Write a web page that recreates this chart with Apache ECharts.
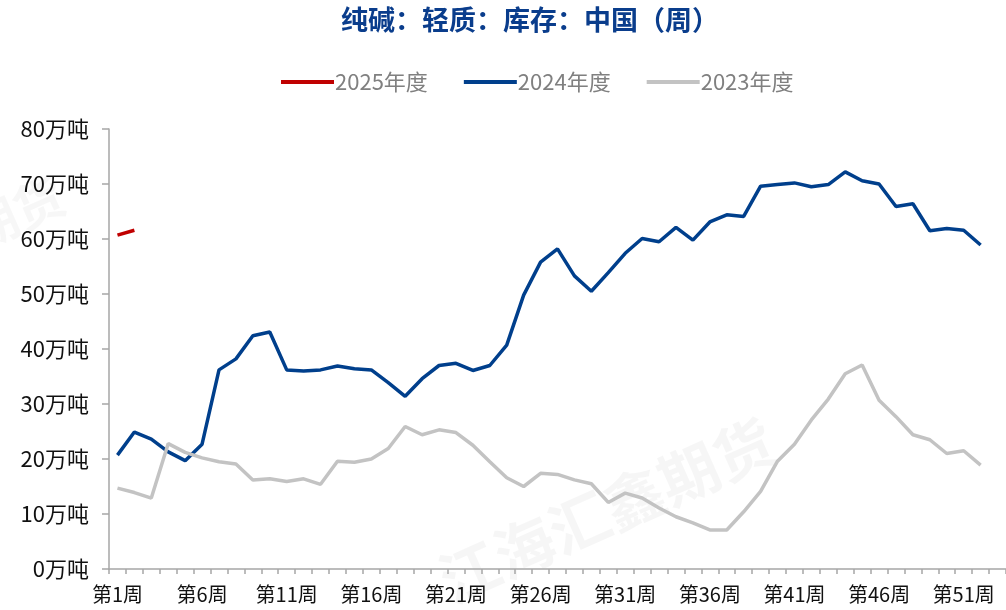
<!DOCTYPE html>
<html>
<head>
<meta charset="utf-8">
<script src="https://cdn.jsdelivr.net/npm/echarts@6/dist/echarts.min.js"></script>
<style>
html,body{margin:0;padding:0;background:#fff;}
#c{width:1006px;height:610px;}
</style>
</head>
<body>
<div id="c"></div>
<script>
var weeks = [];
for (var i = 1; i <= 53; i++) weeks.push('第' + i + '周');

var s2025 = [60.7, 61.6];
var s2024 = [20.7, 24.9, 23.6, 21.3, 19.7, 22.7, 36.2, 38.2, 42.4, 43.1,
             36.2, 36.0, 36.2, 36.9, 36.4, 36.2, 33.9, 31.4, 34.6, 37.0,
             37.4, 36.1, 37.0, 40.7, 49.8, 55.8, 58.2, 53.3, 50.5, 53.9,
             57.4, 60.1, 59.5, 62.1, 59.8, 63.1, 64.4, 64.1, 69.6, 69.9,
             70.2, 69.5, 69.9, 72.2, 70.6, 70.0, 65.9, 66.4, 61.5, 61.9,
             61.6, 58.9];
var s2023 = [14.7, 13.9, 12.9, 22.8, 21.2, 20.2, 19.5, 19.1, 16.2, 16.4,
             15.9, 16.4, 15.4, 19.6, 19.4, 20.0, 21.9, 25.9, 24.4, 25.3,
             24.8, 22.5, 19.5, 16.6, 15.0, 17.4, 17.2, 16.2, 15.5, 12.1,
             13.8, 12.9, 11.1, 9.5, 8.4, 7.1, 7.1, 10.4, 14.1, 19.6,
             22.7, 27.1, 30.9, 35.5, 37.1, 30.7, 27.7, 24.4, 23.5, 21.0,
             21.5, 18.9];
var seriesNames = ['2025年度', '2024年度', '2023年度'];
var seriesColors = ['#c00000', '#003f8c', '#c3c3c3'];
var yTicks = [0, 10, 20, 30, 40, 50, 60, 70, 80];

var chart = echarts.init(document.getElementById('c'));
var font = '"Noto Sans CJK SC", "Noto Sans", sans-serif';
function mk(name, data, color) {
  return {
    name: name, type: 'line', data: data, symbol: 'none', smooth: false,
    lineStyle: {width: 3.5, color: color}, itemStyle: {color: color}
  };
}
chart.setOption({
  animation: false,
  backgroundColor: '#ffffff',
  title: {
    text: '纯碱：轻质：库存：中国（周）',
    left: 336, top: 1,
    textStyle: {fontFamily: font, fontSize: 27, fontWeight: 'bold', color: '#0a3d8c'}
  },
  graphic: [{
    type: 'text', left: 430, top: 410, rotation: Math.PI / 7.5,
    style: {text: '江海汇鑫期货', fontSize: 60, fontWeight: 'bold', fontFamily: font, fill: 'rgba(0,0,0,0.035)'}
  }, {
    type: 'text', left: -40, top: 170, rotation: Math.PI / 7.5,
    style: {text: '期货', fontSize: 50, fontWeight: 'bold', fontFamily: font, fill: 'rgba(0,0,0,0.03)'}
  }],
  legend: {
    top: 66, left: 276,
    itemWidth: 53, itemHeight: 4, itemGap: 36,
    icon: 'rect',
    data: seriesNames,
    textStyle: {fontFamily: font, fontSize: 22, color: '#808080', padding: [0, 0, 0, -4]}
  },
  grid: {left: 109, right: -6, top: 129, bottom: 41, containLabel: false},
  xAxis: {
    type: 'category', data: weeks, boundaryGap: true,
    axisLine: {show: true, lineStyle: {color: '#a6a6a6', width: 1.5}},
    axisTick: {show: true, interval: 0, length: 5, lineStyle: {color: '#a6a6a6', width: 1.5}},
    axisLabel: {interval: 4, margin: 15, fontFamily: font, fontSize: 20, color: '#111'},
    splitLine: {show: false}
  },
  yAxis: {
    type: 'value', min: yTicks[0], max: yTicks[yTicks.length - 1], interval: 10,
    axisLine: {show: true, lineStyle: {color: '#a6a6a6', width: 1.5}},
    axisTick: {show: true, inside: false, length: 7, lineStyle: {color: '#a6a6a6', width: 1.5}},
    axisLabel: {margin: 20, fontFamily: font, fontSize: 22, color: '#111',
      formatter: function (v) { return v + '万吨'; }},
    splitLine: {show: false}
  },
  series: [
    mk(seriesNames[0], s2025, seriesColors[0]),
    mk(seriesNames[1], s2024, seriesColors[1]),
    mk(seriesNames[2], s2023, seriesColors[2])
  ]
});
</script>
</body>
</html>
